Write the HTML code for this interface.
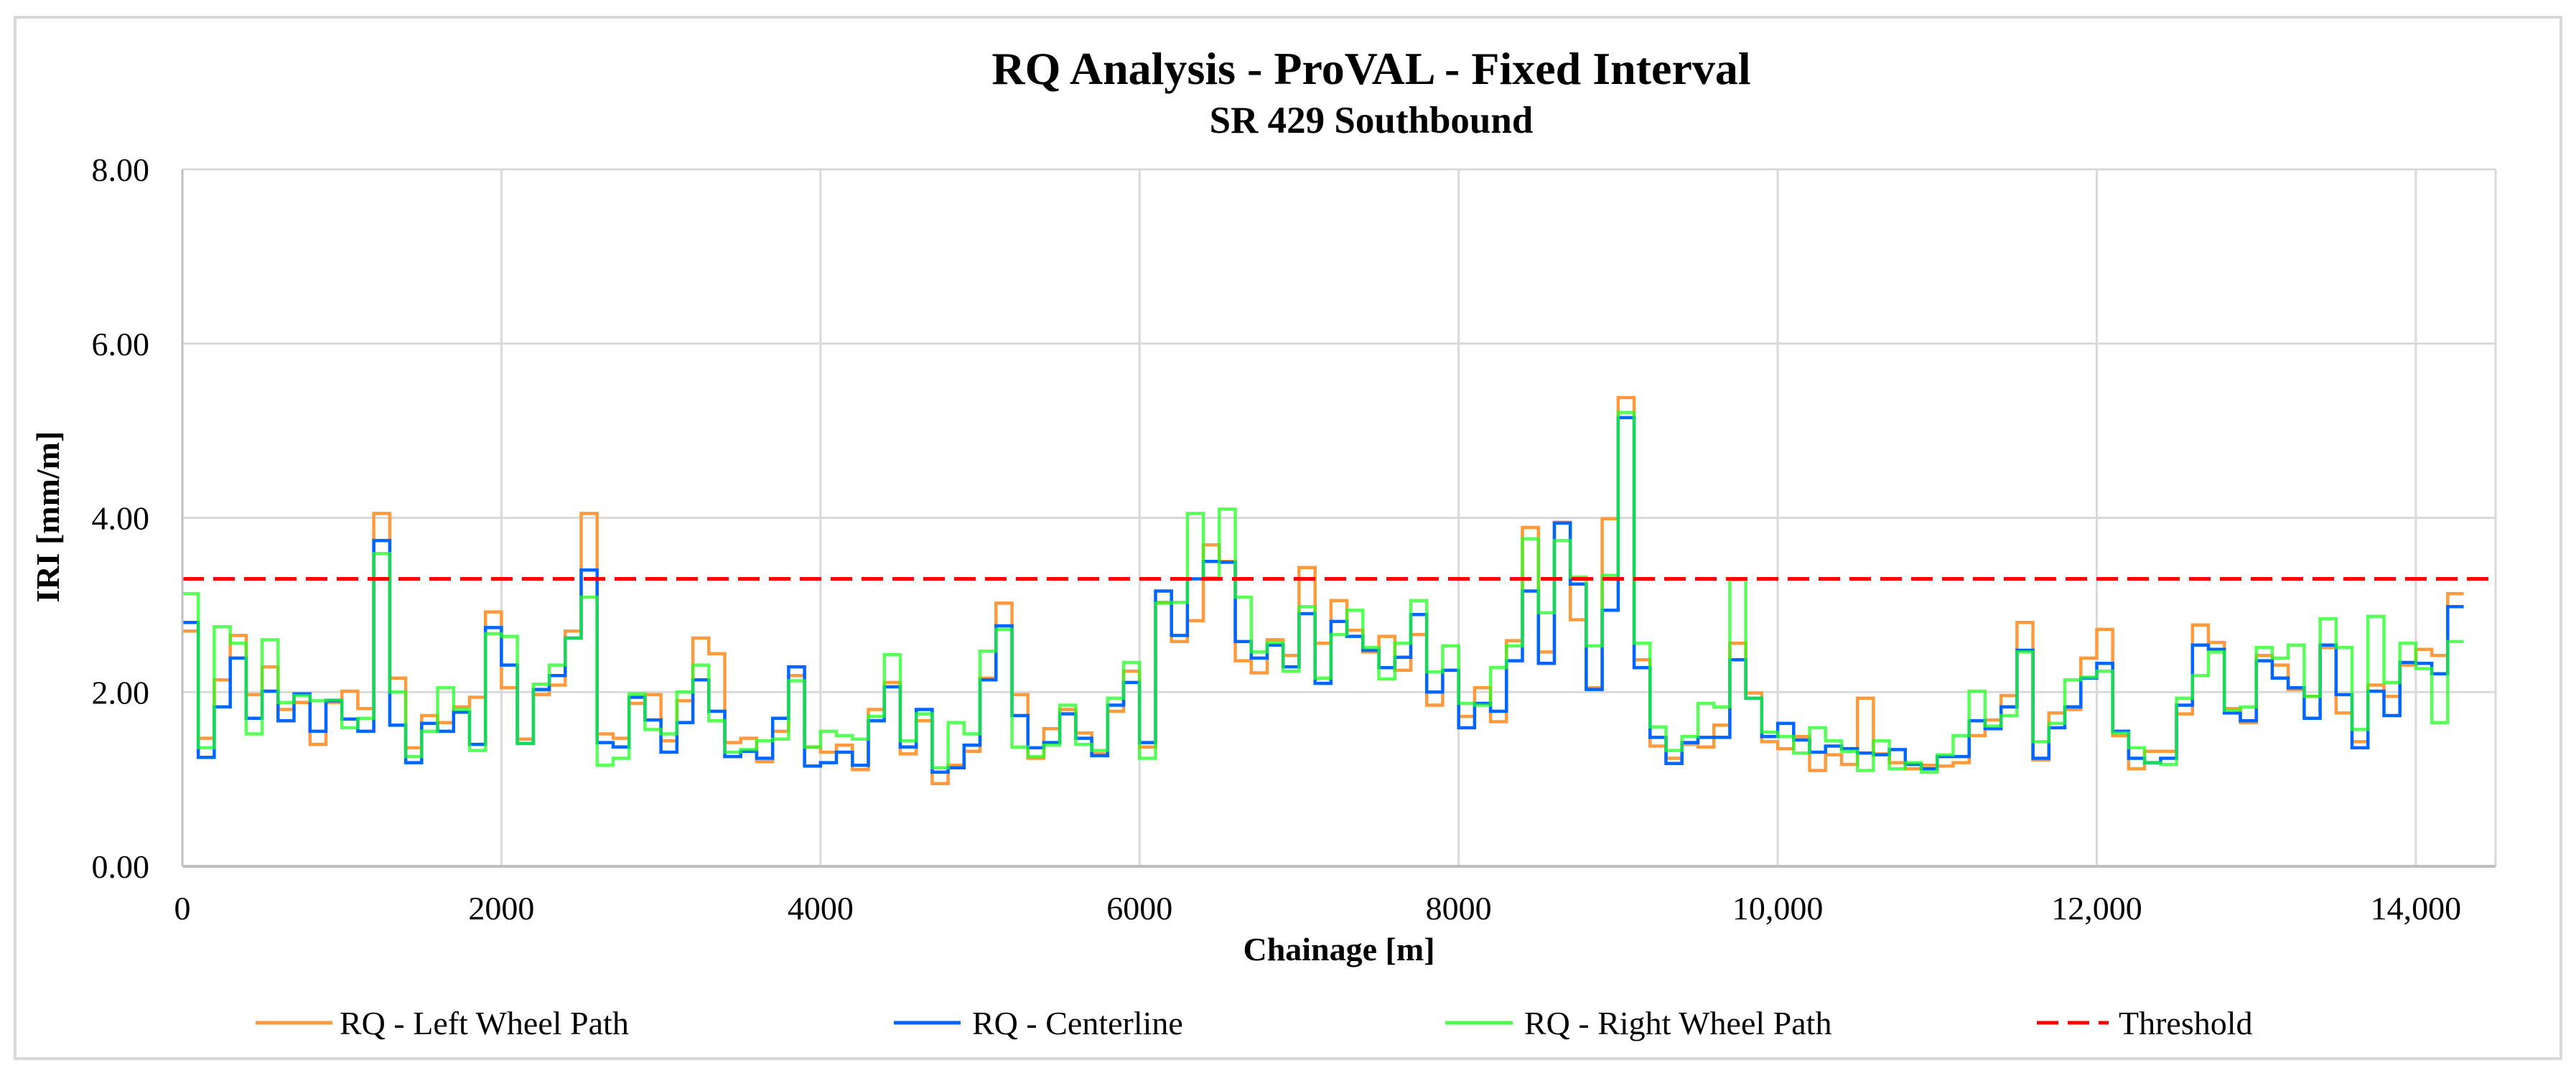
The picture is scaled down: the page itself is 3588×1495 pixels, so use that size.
<!DOCTYPE html>
<html><head><meta charset="utf-8"><style>
html,body{margin:0;padding:0;background:#fff;}
svg{display:block;font-family:"Liberation Serif",serif;}
</style></head><body>
<svg id="chart" width="3588" height="1495" viewBox="0 0 3588 1495">
<rect x="21" y="24" width="3546" height="1451" fill="#fff" stroke="#d9d9d9" stroke-width="4"/>
<text x="1910" y="117" text-anchor="middle" font-size="64" font-weight="bold">RQ Analysis  - ProVAL - Fixed Interval</text>
<text x="1910" y="185" text-anchor="middle" font-size="53" font-weight="bold">SR 429 Southbound</text>
<g id="grid"></g>
<g id="series"></g>
<g id="axes"></g>
<text transform="translate(82,720) rotate(-90)" text-anchor="middle" font-size="46" font-weight="bold">IRI [mm/m]</text>
<text x="1865" y="1338" text-anchor="middle" font-size="46" font-weight="bold">Chainage [m]</text>
<g id="legend">
<g><line x1="356" y1="1425" x2="463" y2="1425" stroke="#FF9A3C" stroke-width="5"/><text x="473" y="1441" font-size="46">RQ - Left Wheel Path</text></g>
<g><line x1="1245" y1="1425" x2="1338" y2="1425" stroke="#0066FF" stroke-width="5"/><text x="1354" y="1441" font-size="46">RQ - Centerline</text></g>
<g><line x1="2013" y1="1425" x2="2107" y2="1425" stroke="#4DFF4D" stroke-width="5"/><text x="2123" y="1441" font-size="46">RQ - Right Wheel Path</text></g>
<g><line x1="2837" y1="1425" x2="2937" y2="1425" stroke="#FF0000" stroke-width="5" stroke-dasharray="30,13"/><text x="2951" y="1441" font-size="46">Threshold</text></g>
</g>
</svg>
<script>
const stepLength = 100;
const threshold = 3.3;
const yTicks = [0, 2, 4, 6, 8];
const yTickLabels = ["0.00", "2.00", "4.00", "6.00", "8.00"];
const xTicks = [0, 2000, 4000, 6000, 8000, 10000, 12000, 14000];
const xTickLabels = ["0", "2000", "4000", "6000", "8000", "10,000", "12,000", "14,000"];
const leftWheel = [2.70,1.47,2.14,2.65,1.97,2.29,1.80,1.88,1.40,1.88,2.01,1.81,4.05,2.16,1.36,1.73,1.65,1.83,1.94,2.92,2.05,1.46,1.97,2.08,2.70,4.05,1.52,1.47,1.87,1.97,1.44,1.90,2.62,2.44,1.42,1.47,1.20,1.55,2.19,1.37,1.31,1.39,1.11,1.80,2.11,1.29,1.67,0.95,1.16,1.32,2.16,3.02,1.97,1.24,1.58,1.80,1.53,1.29,1.78,2.24,1.37,3.03,2.58,2.82,3.69,3.50,2.36,2.22,2.60,2.42,3.43,2.56,3.05,2.71,2.46,2.64,2.25,2.66,1.85,2.25,1.72,2.05,1.66,2.59,3.89,2.46,3.95,2.83,2.05,3.99,5.38,2.37,1.38,1.24,1.40,1.37,1.62,2.56,1.99,1.43,1.35,1.49,1.10,1.28,1.17,1.93,1.29,1.19,1.12,1.16,1.15,1.19,1.50,1.68,1.96,2.80,1.22,1.76,1.80,2.39,2.72,1.50,1.12,1.32,1.32,1.75,2.77,2.57,1.81,1.65,2.42,2.31,2.03,1.95,2.51,1.76,1.43,2.08,1.95,2.31,2.49,2.42,3.13];
const centerline = [2.80,1.25,1.83,2.39,1.70,2.01,1.67,1.98,1.55,1.90,1.69,1.55,3.74,1.62,1.19,1.64,1.55,1.77,1.40,2.74,2.31,1.41,2.03,2.19,2.62,3.40,1.42,1.37,1.94,1.68,1.31,1.65,2.14,1.78,1.26,1.32,1.24,1.70,2.29,1.15,1.19,1.31,1.16,1.67,2.06,1.37,1.80,1.08,1.13,1.39,2.14,2.76,1.73,1.36,1.42,1.75,1.47,1.27,1.85,2.11,1.42,3.16,2.65,3.30,3.50,3.49,2.58,2.39,2.54,2.29,2.90,2.10,2.81,2.64,2.48,2.28,2.40,2.89,2.00,2.25,1.59,1.87,1.78,2.36,3.16,2.33,3.94,3.24,2.03,2.94,5.15,2.28,1.48,1.18,1.42,1.48,1.48,2.37,1.93,1.49,1.64,1.45,1.31,1.38,1.35,1.30,1.28,1.34,1.17,1.12,1.26,1.26,1.67,1.58,1.83,2.48,1.24,1.59,1.83,2.16,2.33,1.55,1.24,1.19,1.24,1.85,2.54,2.49,1.76,1.67,2.36,2.16,2.05,1.70,2.54,1.97,1.36,2.01,1.73,2.34,2.33,2.21,2.98];
const rightWheel = [3.13,1.36,2.75,2.56,1.52,2.60,1.88,1.96,1.90,1.91,1.59,1.70,3.59,2.00,1.26,1.55,2.05,1.80,1.33,2.67,2.64,1.41,2.09,2.31,2.62,3.09,1.16,1.24,1.98,1.57,1.52,2.00,2.31,1.67,1.31,1.34,1.44,1.46,2.13,1.37,1.55,1.50,1.46,1.72,2.43,1.44,1.75,1.13,1.65,1.52,2.47,2.72,1.37,1.26,1.39,1.85,1.40,1.33,1.93,2.34,1.24,3.02,3.03,4.05,3.31,4.10,3.09,2.46,2.57,2.24,2.98,2.16,2.66,2.94,2.51,2.15,2.56,3.05,2.23,2.53,1.87,1.85,2.28,2.53,3.76,2.91,3.74,3.32,2.53,3.34,5.21,2.56,1.60,1.33,1.49,1.87,1.83,3.29,1.93,1.54,1.49,1.30,1.59,1.44,1.32,1.10,1.44,1.12,1.19,1.08,1.28,1.50,2.01,1.61,1.73,2.46,1.43,1.64,2.14,2.17,2.24,1.53,1.36,1.19,1.17,1.93,2.19,2.46,1.79,1.83,2.51,2.39,2.54,1.95,2.84,2.51,1.57,2.87,2.11,2.56,2.27,1.65,2.58];

const X0 = 254, X1 = 3476, Y0 = 1207, Y1 = 236, XMAX = 14500, YMAX = 8;
function xs(v){ return X0 + (X1 - X0) * v / XMAX; }
function ys(v){ return Y0 - (Y0 - Y1) * v / YMAX; }
const NS = "http://www.w3.org/2000/svg";
function mk(tag, attrs, parent){ const e = document.createElementNS(NS, tag); for (const k in attrs) e.setAttribute(k, attrs[k]); parent.appendChild(e); return e; }

const grid = document.getElementById('grid');
const axes = document.getElementById('axes');
yTicks.forEach((t, i) => {
  if (t > 0) {
    const l = mk('line', {x1: X0, x2: X1, y1: ys(t), y2: ys(t), stroke: '#d9d9d9', 'stroke-width': 3}, grid);
    
    
  }
  const tx = mk('text', {x: 208, y: ys(t) + 16, 'text-anchor': 'end', 'font-size': 46}, axes);
  tx.textContent = yTickLabels[i];
  
  
});
xTicks.forEach((t, i) => {
  if (t > 0) {
    const l = mk('line', {x1: xs(t), x2: xs(t), y1: Y1, y2: Y0, stroke: '#d9d9d9', 'stroke-width': 3}, grid);
    
    
  }
  const tx = mk('text', {x: xs(t), y: 1281, 'text-anchor': 'middle', 'font-size': 46}, axes);
  tx.textContent = xTickLabels[i];
  
  
});
const rt = mk('line', {x1: X1, x2: X1, y1: Y1, y2: Y0, stroke: '#d9d9d9', 'stroke-width': 3}, grid);


const tp = mk('line', {x1: X0, x2: X1, y1: Y1, y2: Y1, stroke: '#d9d9d9', 'stroke-width': 3}, grid);


const ya = mk('line', {x1: X0, x2: X0, y1: Y1, y2: Y0, stroke: '#bfbfbf', 'stroke-width': 3}, axes);


const xa = mk('line', {x1: X0, x2: X1, y1: Y0, y2: Y0, stroke: '#bfbfbf', 'stroke-width': 4}, axes);



function stepPath(vals){
  let d = '';
  vals.forEach((v, i) => {
    const xa = xs(i * stepLength), xb = xs((i + 1) * stepLength), y = ys(v);
    d += (i === 0 ? 'M' : 'L') + xa.toFixed(1) + ',' + y.toFixed(1) + 'L' + xb.toFixed(1) + ',' + y.toFixed(1);
  });
  return d;
}
const series = document.getElementById('series');
const p1 = mk('path', {d: stepPath(leftWheel), fill: 'none', stroke: '#FF9A3C', 'stroke-width': 4.5}, series);


const p2 = mk('path', {d: stepPath(centerline), fill: 'none', stroke: '#0066FF', 'stroke-width': 4.5}, series);


const p3 = mk('path', {d: stepPath(rightWheel), fill: 'none', stroke: '#22FF22', 'stroke-opacity': 0.75, 'stroke-width': 4.5}, series);


const th = mk('line', {x1: X0, x2: X1, y1: ys(threshold), y2: ys(threshold), stroke: '#FF0000', 'stroke-width': 5, 'stroke-dasharray': '30,13'}, series);


</script>
</body></html>
